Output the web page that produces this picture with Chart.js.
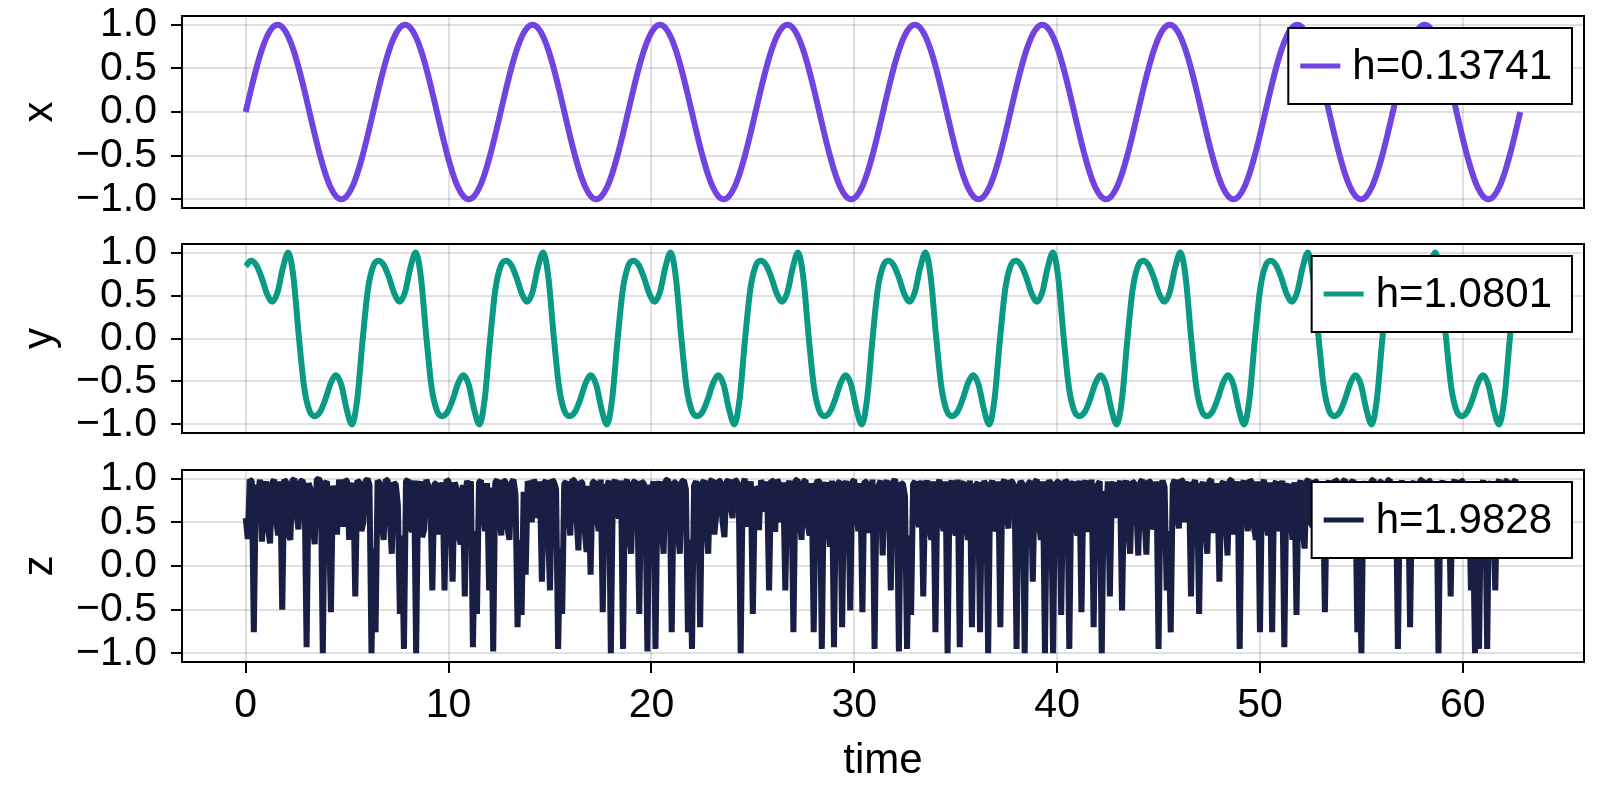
<!DOCTYPE html>
<html>
<head>
<meta charset="utf-8">
<script src="https://cdn.jsdelivr.net/npm/chart.js@4.4.1/dist/chart.umd.min.js"></script>
<style>
  html, body { margin: 0; padding: 0; background: #fff; }
  #wrap { position: relative; width: 1600px; height: 800px; }
  canvas { position: absolute; left: 0; }
</style>
</head>
<body>
<div id="wrap">
  <canvas id="cx" width="1600" height="225" style="top:0px"></canvas>
  <canvas id="cy" width="1600" height="227" style="top:225px"></canvas>
  <canvas id="cz" width="1600" height="348" style="top:452px"></canvas>
</div>
<script>
const xSignal = [
  0, 0.259, 0.5, 0.707, 0.866, 0.966, 1, 0.966, 0.866, 0.707, 0.5, 0.259, 0, -0.259, -0.5, -0.707, -0.866, -0.966, -1, -0.966, -0.866, -0.707, -0.5, -0.259,
  0, 0.259, 0.5, 0.707, 0.866, 0.966, 1, 0.966, 0.866, 0.707, 0.5, 0.259, 0, -0.259, -0.5, -0.707, -0.866, -0.966, -1, -0.966, -0.866, -0.707, -0.5, -0.259,
  0, 0.259, 0.5, 0.707, 0.866, 0.966, 1, 0.966, 0.866, 0.707, 0.5, 0.259, 0, -0.259, -0.5, -0.707, -0.866, -0.966, -1, -0.966, -0.866, -0.707, -0.5, -0.259,
  0, 0.259, 0.5, 0.707, 0.866, 0.966, 1, 0.966, 0.866, 0.707, 0.5, 0.259, 0, -0.259, -0.5, -0.707, -0.866, -0.966, -1, -0.966, -0.866, -0.707, -0.5, -0.259,
  0, 0.259, 0.5, 0.707, 0.866, 0.966, 1, 0.966, 0.866, 0.707, 0.5, 0.259, 0, -0.259, -0.5, -0.707, -0.866, -0.966, -1, -0.966, -0.866, -0.707, -0.5, -0.259,
  0, 0.259, 0.5, 0.707, 0.866, 0.966, 1, 0.966, 0.866, 0.707, 0.5, 0.259, 0, -0.259, -0.5, -0.707, -0.866, -0.966, -1, -0.966, -0.866, -0.707, -0.5, -0.259,
  0, 0.259, 0.5, 0.707, 0.866, 0.966, 1, 0.966, 0.866, 0.707, 0.5, 0.259, 0, -0.259, -0.5, -0.707, -0.866, -0.966, -1, -0.966, -0.866, -0.707, -0.5, -0.259,
  0, 0.259, 0.5, 0.707, 0.866, 0.966, 1, 0.966, 0.866, 0.707, 0.5, 0.259, 0, -0.259, -0.5, -0.707, -0.866, -0.966, -1, -0.966, -0.866, -0.707, -0.5, -0.259,
  0, 0.259, 0.5, 0.707, 0.866, 0.966, 1, 0.966, 0.866, 0.707, 0.5, 0.259, 0, -0.259, -0.5, -0.707, -0.866, -0.966, -1, -0.966, -0.866, -0.707, -0.5, -0.259,
  0, 0.259, 0.5, 0.707, 0.866, 0.966, 1, 0.966, 0.866, 0.707, 0.5, 0.259, 0, -0.259, -0.5, -0.707, -0.866, -0.966, -1, -0.966, -0.866, -0.707, -0.5, -0.259,
  0
];

const ySignal = [
  0.841, 0.904, 0.854, 0.707, 0.52, 0.429, 0.54, 0.823, 1, 0.707, 0.024, -0.568, -0.841, -0.904, -0.854, -0.707, -0.52, -0.429, -0.54, -0.823, -1, -0.707, -0.024, 0.568,
  0.841, 0.904, 0.854, 0.707, 0.52, 0.429, 0.54, 0.823, 1, 0.707, 0.024, -0.568, -0.841, -0.904, -0.854, -0.707, -0.52, -0.429, -0.54, -0.823, -1, -0.707, -0.024, 0.568,
  0.841, 0.904, 0.854, 0.707, 0.52, 0.429, 0.54, 0.823, 1, 0.707, 0.024, -0.568, -0.841, -0.904, -0.854, -0.707, -0.52, -0.429, -0.54, -0.823, -1, -0.707, -0.024, 0.568,
  0.841, 0.904, 0.854, 0.707, 0.52, 0.429, 0.54, 0.823, 1, 0.707, 0.024, -0.568, -0.841, -0.904, -0.854, -0.707, -0.52, -0.429, -0.54, -0.823, -1, -0.707, -0.024, 0.568,
  0.841, 0.904, 0.854, 0.707, 0.52, 0.429, 0.54, 0.823, 1, 0.707, 0.024, -0.568, -0.841, -0.904, -0.854, -0.707, -0.52, -0.429, -0.54, -0.823, -1, -0.707, -0.024, 0.568,
  0.841, 0.904, 0.854, 0.707, 0.52, 0.429, 0.54, 0.823, 1, 0.707, 0.024, -0.568, -0.841, -0.904, -0.854, -0.707, -0.52, -0.429, -0.54, -0.823, -1, -0.707, -0.024, 0.568,
  0.841, 0.904, 0.854, 0.707, 0.52, 0.429, 0.54, 0.823, 1, 0.707, 0.024, -0.568, -0.841, -0.904, -0.854, -0.707, -0.52, -0.429, -0.54, -0.823, -1, -0.707, -0.024, 0.568,
  0.841, 0.904, 0.854, 0.707, 0.52, 0.429, 0.54, 0.823, 1, 0.707, 0.024, -0.568, -0.841, -0.904, -0.854, -0.707, -0.52, -0.429, -0.54, -0.823, -1, -0.707, -0.024, 0.568,
  0.841, 0.904, 0.854, 0.707, 0.52, 0.429, 0.54, 0.823, 1, 0.707, 0.024, -0.568, -0.841, -0.904, -0.854, -0.707, -0.52, -0.429, -0.54, -0.823, -1, -0.707, -0.024, 0.568,
  0.841, 0.904, 0.854, 0.707, 0.52, 0.429, 0.54, 0.823, 1, 0.707, 0.024, -0.568, -0.841, -0.904, -0.854, -0.707, -0.52, -0.429, -0.54, -0.823, -1, -0.707, -0.024, 0.568,
  0.841
];

const zSignal = [
  0.55, 0.31, 0.99, 0.97, -0.76, 0.93, 0.82, 0.99, 0.28, 0.86, 0.97, 0.42, 0.26, 0.95, 0.99, 0.52, 0.35, 0.97, -0.5, 0.99,
  0.96, 0.38, 0.3, 0.98, 1.0, 0.61, 0.42, 0.97, 0.98, 0.9, -0.93, 0.95, 0.88, 0.47, 0.25, 0.99, 1.0, 0.96, -1.0, 0.94,
  0.97, 0.6, -0.53, 0.92, 0.83, 0.36, 0.99, 0.71, 0.45, 0.99, 0.97, 0.3, 0.88, 0.95, -0.35, 0.98, 0.96, 0.4, 0.5, 0.97,
  1.0, 0.93, -1.0, 0.2, -0.76, 0.98, 0.95, 0.48, 0.3, 0.99, 0.98, 0.55, 0.14, 0.96, 0.93, 0.7, -0.55, 0.35, -0.95, 0.97,
  0.99, 0.43, 0.4, 0.98, -1.0, 0.9, 0.97, 0.33, 0.42, 0.99, 0.92, 0.8, -0.28, 0.94, 0.95, 0.36, 0.6, 0.96, -0.28, 0.99,
  0.97, 0.52, -0.18, 0.96, 0.88, 0.34, 0.25, 0.93, -0.35, 0.98, 0.9, 0.97, -0.93, 0.4, -0.55, 0.96, 0.98, 0.6, 0.4, 0.95,
  -0.28, 0.9, -0.98, 0.96, 0.99, 0.57, 0.35, 0.98, 0.97, 0.44, 0.3, 0.95, 0.99, 0.82, -0.7, 0.3, -0.56, 0.85, -0.1, 0.97,
  0.92, 0.5, 0.99, 0.93, 0.55, 0.97, -0.18, 0.95, 0.98, 0.42, -0.28, 0.99, 0.96, 0.88, -0.95, 0.2, -0.55, 0.94, 0.97, 0.61,
  0.35, 0.99, 0.98, 0.6, 0.18, 0.97, 0.95, 0.45, 0.16, 0.92, -0.1, 0.96, 0.97, 0.58, 0.4, 0.99, -0.53, 0.93, 0.9, 0.98,
  -1.0, 0.91, 0.99, 0.62, 0.55, 0.98, -0.95, 0.94, 0.99, 0.38, 0.14, 0.96, 0.97, 0.83, -0.55, 0.97, 0.95, 0.9, -0.98, 0.93,
  0.84, 0.97, -0.95, 0.9, 0.97, 0.5, 0.14, 0.98, 0.99, 0.92, -0.76, 0.96, 0.96, 0.4, 0.14, 0.97, 0.98, 0.88, -0.76, 0.3,
  -0.95, 0.92, 0.97, 0.85, -0.7, 0.95, 0.98, 0.47, 0.14, 0.97, 0.99, 0.36, 0.6, 0.98, 0.97, 0.52, 0.33, 0.96, 0.99, 0.7,
  0.55, 0.99, 0.97, 0.9, -1.0, 0.93, 1.0, 0.45, 0.8, 0.97, -0.55, 0.9, 0.88, 0.41, 0.98, 0.93, 0.62, 0.97, -0.28, 0.98,
  0.97, 0.39, 0.99, 0.94, 0.5, 0.96, -0.28, 0.92, 0.97, 0.9, -0.76, 0.98, 0.99, 0.56, 0.3, 0.97, 0.98, 0.48, 0.35, 0.95,
  -0.76, 0.93, 0.98, 0.96, -0.95, 0.88, 0.96, 0.5, 0.22, 0.98, -0.93, 0.9, 0.95, 0.97, -0.7, 0.92, 0.97, 0.86, -0.51, 0.96,
  0.99, 0.62, 0.4, 0.95, -0.53, 0.97, 0.96, 0.38, 0.55, 0.99, -0.95, 0.86, 0.92, 0.98, 0.12, 0.93, 0.98, 0.81, -0.28, 0.96,
  0.99, 0.9, -0.98, 0.95, 0.94, 0.8, -0.95, 0.35, -0.56, 0.94, 0.97, 0.52, 0.45, 0.98, -0.35, 0.9, 0.98, 0.43, 0.3, 0.97,
  -0.76, 0.92, 0.99, 0.57, 0.4, 0.97, -1.0, 0.9, 0.98, 0.46, 0.35, 0.99, -0.93, 0.94, 0.96, 0.52, 0.3, 0.98, -0.7, 0.9,
  0.93, 0.96, -0.76, 0.88, 0.97, 0.93, -1.0, 0.91, 0.98, 0.4, 0.45, 0.97, -0.7, 0.94, 0.99, 0.6, 0.43, 0.98, 0.96, 0.9,
  -0.95, 0.9, 0.97, 0.94, -1.0, 0.88, 0.95, 0.97, -0.18, 0.96, 0.99, 0.5, 0.3, 0.97, -1.0, 0.93, 0.97, 0.95, -1.0, 0.92,
  0.96, 0.97, -0.56, 0.9, 0.98, 0.96, -0.95, 0.91, 0.97, 0.47, 0.35, 0.98, -0.53, 0.92, 0.98, 0.39, 0.6, 0.99, -0.7, 0.88,
  0.93, 0.97, -1.0, 0.86, 0.5, 0.97, -0.35, 0.92, 0.96, 0.55, 0.85, 0.98, -0.51, 0.9, 0.98, 0.45, 0.14, 0.97, 0.95, 0.7,
  0.12, 0.96, 0.99, 0.58, 0.13, 0.98, 0.96, 0.42, 0.5, 0.97, -0.95, 0.89, 0.98, 0.9, -0.28, 0.4, -0.76, 0.93, 0.99, 0.61,
  0.43, 0.99, 0.97, 0.5, 0.92, 0.96, -0.35, 0.94, 0.98, 0.86, -0.55, 0.92, 0.96, 0.45, 0.14, 0.97, 0.99, 0.38, 0.6, 0.95,
  -0.18, 0.93, 0.97, 0.56, 0.12, 0.98, 0.99, 0.36, 0.7, 0.97, -0.95, 0.91, 0.98, 0.6, 0.4, 0.99, 0.96, 0.45, 0.3, 0.97,
  -0.76, 0.9, 0.99, 0.52, 0.35, 0.96, -0.76, 0.93, 0.97, 0.4, 0.5, 0.98, -0.93, 0.9, 0.94, 0.6, 0.3, 0.96, -0.56, 0.92,
  0.98, 0.44, 0.2, 0.97, 0.99, 0.5, 0.45, 0.98, 0.96, 0.35, 0.7, 0.97, -0.53, 0.9, 0.98, 0.55, 0.5, 0.99, 0.97, 0.42,
  0.85, 0.97, 0.99, 0.4, 0.55, 0.96, 0.98, 0.9, -0.76, 0.2, -1.0, 0.88, 0.97, 0.45, 0.6, 0.98, 0.99, 0.5, 0.8, 0.96,
  0.97, 0.36, 0.5, 0.98, 0.99, 0.48, 0.7, 0.96, -0.95, 0.9, 0.98, 0.42, 0.55, 0.97, -0.7, 0.93, 0.97, 0.5, 0.8, 0.98,
  0.99, 0.45, 0.6, 0.98, 0.97, 0.38, 0.75, 0.96, -1.0, 0.9, 0.98, 0.55, 0.5, 0.97, -0.35, 0.93, 0.99, 0.42, 0.7, 0.98,
  0.97, 0.4, 0.8, 0.96, -0.28, 0.5, -1.0, 0.3, -0.95, 0.92, 0.98, 0.85, -0.95, 0.9, 0.97, 0.6, -0.28, 0.94, 0.99, 0.5,
  0.7, 0.97, 0.98, 0.45, 0.85, 0.96, 0.99, 0.55, 0.96
];

const xyStep = Math.PI / 12;
const zStep = 0.1;

const axisLabels = ['x', 'y', 'z'];
const legendLabels = ['h=0.13741', 'h=1.0801', 'h=1.9828'];
const lineColors = ['#7143E0', '#0A9A84', '#191E44'];
const yTickValues = [-1, -0.5, 0, 0.5, 1];
const timeTickValues = [0, 10, 20, 30, 40, 50, 60];

const FONT = '"Liberation Sans", Arial, Helvetica, sans-serif';
Chart.defaults.font.family = FONT;
Chart.defaults.color = '#000';

const toPoints = (values, step) => values.map((v, i) => ({ x: i * step, y: v }));

// black box round the plot area, like the Makie spines
const frame = {
  id: 'frame',
  afterDatasetsDraw(chart) {
    const { ctx, chartArea: a } = chart;
    ctx.save();
    ctx.strokeStyle = '#000';
    ctx.lineWidth = 2;
    ctx.strokeRect(a.left, a.top, a.right - a.left, a.bottom - a.top);
    ctx.restore();
  },
};

// legend drawn in the top right corner, inside the plot area
const boxLegend = {
  id: 'boxLegend',
  afterDraw(chart, args, opts) {
    const { ctx, chartArea: a } = chart;
    ctx.save();
    ctx.font = '42px ' + FONT;
    const tw = ctx.measureText(opts.text).width;
    const w = 12 + 40 + 12 + tw + 20;
    const h = 76;
    const x = a.right - 12 - w;
    const y = a.top + 12;
    ctx.fillStyle = '#fff';
    ctx.fillRect(x, y, w, h);
    ctx.strokeStyle = '#000';
    ctx.lineWidth = 2;
    ctx.strokeRect(x, y, w, h);
    ctx.strokeStyle = opts.color;
    ctx.lineWidth = 5;
    ctx.beginPath();
    ctx.moveTo(x + 12, y + h / 2);
    ctx.lineTo(x + 52, y + h / 2);
    ctx.stroke();
    ctx.fillStyle = '#000';
    ctx.textBaseline = 'middle';
    ctx.fillText(opts.text, x + 64, y + h / 2 + 1);
    ctx.restore();
  },
};

const panels = [
  { id: 'cx', values: xSignal, step: xyStep, top: 16, axisH: 17, last: false, smooth: true },
  { id: 'cy', values: ySignal, step: xyStep, top: 19, axisH: 19, last: false, smooth: true },
  { id: 'cz', values: zSignal, step: zStep, top: 18, axisH: 138, last: true, smooth: false },
];

panels.forEach((p, n) => {
  new Chart(document.getElementById(p.id), {
    type: 'line',
    data: {
      datasets: [
        {
          label: legendLabels[n],
          data: toPoints(p.values, p.step),
          borderColor: lineColors[n],
          borderWidth: 6,
          pointRadius: 0,
          borderJoinStyle: p.smooth ? 'round' : 'bevel',
          borderCapStyle: 'butt',
          cubicInterpolationMode: p.smooth ? 'monotone' : 'default',
          tension: 0,
          clip: false,
        },
      ],
    },
    options: {
      responsive: false,
      animation: false,
      events: [],
      layout: { padding: { top: p.top, right: 16, left: 0, bottom: 0 } },
      plugins: {
        legend: { display: false },
        tooltip: { enabled: false },
        frame: {},
        boxLegend: { text: legendLabels[n], color: lineColors[n] },
      },
      scales: {
        x: {
          type: 'linear',
          min: -3.1416,
          max: 65.9734,
          afterBuildTicks: (s) => { s.ticks = timeTickValues.map((v) => ({ value: v })); },
          afterFit: (s) => { s.height = p.axisH; s.paddingLeft = 0; s.paddingRight = 0; },
          grid: {
            color: 'rgba(0,0,0,0.12)',
            lineWidth: 2,
            drawTicks: p.last,
            tickLength: 11,
            tickColor: '#000',
            tickWidth: 2,
          },
          border: { display: false },
          ticks: {
            display: p.last,
            autoSkip: false,
            font: { size: 41 },
            padding: 8,
            maxRotation: 0,
            callback: (v) => String(v),
          },
          title: {
            display: p.last,
            text: 'time',
            font: { size: 42 },
            padding: { top: 0, bottom: 13 },
          },
        },
        y: {
          type: 'linear',
          min: -1.1,
          max: 1.1,
          afterBuildTicks: (s) => { s.ticks = yTickValues.map((v) => ({ value: v })); },
          afterFit: (s) => { s.width = 182; s.paddingTop = 0; s.paddingBottom = 0; },
          grid: {
            color: 'rgba(0,0,0,0.12)',
            lineWidth: 2,
            drawTicks: true,
            tickLength: 11,
            tickColor: '#000',
            tickWidth: 2,
          },
          border: { display: false },
          ticks: {
            autoSkip: false,
            font: { size: 41 },
            padding: 14,
            callback: (v) => v.toFixed(1).replace('-', '\u2212'),
          },
          title: {
            display: true,
            text: axisLabels[n],
            font: { size: 42 },
            padding: { top: 15, bottom: 0 },
          },
        },
      },
    },
    plugins: [frame, boxLegend],
  });
});
</script>
</body>
</html>
